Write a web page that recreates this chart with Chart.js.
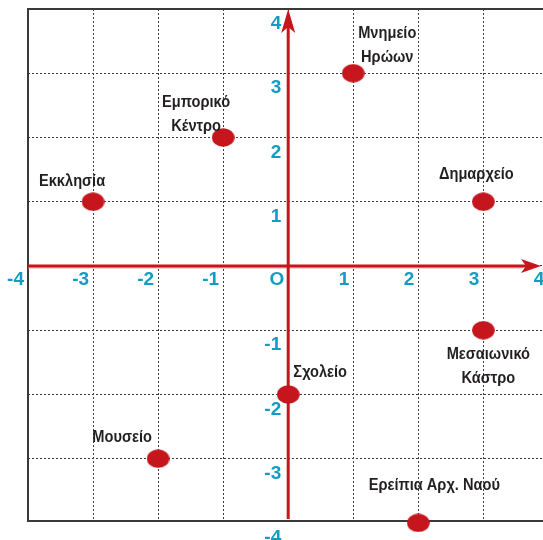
<!DOCTYPE html>
<html>
<head>
<meta charset="utf-8">
<script src="https://cdn.jsdelivr.net/npm/chart.js@4.4.1/dist/chart.umd.min.js"></script>
<style>
  html, body { margin: 0; padding: 0; background: #ffffff; }
  #wrap { width: 543px; height: 540px; }
</style>
</head>
<body>
<div id="wrap"><canvas id="c" width="543" height="540"></canvas></div>
<script>
// ---- data ----
const placeNames = [
  ["Εκκλησία"],
  ["Εμπορικό", "Κέντρο"],
  ["Μνημείο", "Ηρώων"],
  ["Δημαρχείο"],
  ["Μεσαιωνικό", "Κάστρο"],
  ["Σχολείο"],
  ["Μουσείο"],
  ["Ερείπια Αρχ. Ναού"]
];
const xValues = [-3, -1, 1, 3, 3, 0, -2, 2];
const yValues = [1, 2, 3, 1, -1, -2, -3, -4];
const tickValues = [-4, -3, -2, -1, 0, 1, 2, 3, 4];
const xTickLabels = ["-4", "-3", "-2", "-1", "O", "1", "2", "3", "4"];
const yTickLabels = ["-4", "-3", "-2", "-1", "", "1", "2", "3", "4"];

// ---- label placement (style, pixels relative to the point) ----
const labelOffsets = [
  [-21, -20], [-27, -35], [34, -40], [-7, -27],
  [5, 24], [32, -22], [-36, -21], [16, -38]
];
const LINE_H = 24;
const TEXT_SQUEEZE = 0.86;

const RED = "#c4161c";
const BLUE = "#129cc2";
const TEXT = "#231f20";

// ellipse point marker
const marker = document.createElement("canvas");
marker.width = 23; marker.height = 19;
(function () {
  const m = marker.getContext("2d");
  m.fillStyle = RED;
  m.beginPath();
  m.ellipse(11.5, 9.5, 11.3, 9.3, 0, 0, Math.PI * 2);
  m.fill();
})();

const axesPlugin = {
  id: "axesPlugin",
  beforeDatasetsDraw(chart) {
    const ctx = chart.ctx;
    const xs = chart.scales.x, ys = chart.scales.y;
    const a = chart.chartArea;
    const x0 = xs.getPixelForValue(0), y0 = ys.getPixelForValue(0);
    ctx.save();
    // frame
    ctx.strokeStyle = "#3a3a3a";
    ctx.lineWidth = 2;
    ctx.beginPath();
    ctx.moveTo(a.right + 2, a.top); ctx.lineTo(a.left, a.top);
    ctx.lineTo(a.left, a.bottom); ctx.lineTo(a.right + 2, a.bottom);
    ctx.stroke();
    // x axis
    ctx.strokeStyle = "#e8a0a3";
    ctx.lineWidth = 1;
    ctx.beginPath(); ctx.moveTo(a.left, y0 + 2); ctx.lineTo(a.right - 20, y0 + 2); ctx.stroke();
    ctx.strokeStyle = RED;
    ctx.lineWidth = 3;
    ctx.beginPath(); ctx.moveTo(a.left, y0); ctx.lineTo(a.right - 10, y0); ctx.stroke();
    const tipX = a.right - 2;
    ctx.fillStyle = RED;
    ctx.beginPath();
    ctx.moveTo(tipX, y0);
    ctx.lineTo(tipX - 20, y0 - 7);
    ctx.lineTo(tipX - 15, y0);
    ctx.lineTo(tipX - 20, y0 + 7);
    ctx.closePath(); ctx.fill();
    // y axis
    ctx.strokeStyle = RED;
    ctx.lineWidth = 3;
    ctx.beginPath(); ctx.moveTo(x0, a.bottom - 2); ctx.lineTo(x0, a.top + 12); ctx.stroke();
    const tipY = a.top;
    ctx.beginPath();
    ctx.moveTo(x0, tipY);
    ctx.lineTo(x0 - 7, tipY + 24);
    ctx.lineTo(x0, tipY + 18);
    ctx.lineTo(x0 + 7, tipY + 24);
    ctx.closePath(); ctx.fill();
    ctx.restore();
  },
  afterDatasetsDraw(chart) {
    const ctx = chart.ctx;
    const xs = chart.scales.x, ys = chart.scales.y;
    const x0 = xs.getPixelForValue(0), y0 = ys.getPixelForValue(0);
    ctx.save();
    // tick labels
    ctx.fillStyle = BLUE;
    ctx.font = "bold 19px 'Liberation Sans', Arial, sans-serif";
    ctx.textBaseline = "middle";
    ctx.textAlign = "right";
    tickValues.forEach((v, i) => {
      ctx.fillText(xTickLabels[i], xs.getPixelForValue(v) - 4, y0 + 14);
    });
    tickValues.forEach((v, i) => {
      if (!yTickLabels[i]) return;
      ctx.fillText(yTickLabels[i], x0 - 7, ys.getPixelForValue(v) + 15);
    });
    // place labels (condensed)
    ctx.fillStyle = TEXT;
    ctx.font = "bold 17px 'Liberation Sans', Arial, sans-serif";
    ctx.textAlign = "center";
    const meta = chart.getDatasetMeta(0);
    meta.data.forEach((pt, i) => {
      const off = labelOffsets[i];
      placeNames[i].forEach((line, j) => {
        ctx.save();
        ctx.translate(pt.x + off[0], pt.y + off[1] + j * LINE_H);
        ctx.scale(TEXT_SQUEEZE, 1);
        ctx.fillText(line, 0, 0);
        ctx.restore();
      });
    });
    ctx.restore();
  }
};

function flatten(s) {
  s.paddingLeft = 0; s.paddingRight = 0; s.paddingTop = 0; s.paddingBottom = 0;
  if (s.isHorizontal()) s.height = 0; else s.width = 0;
}

new Chart(document.getElementById("c"), {
  type: "scatter",
  data: {
    datasets: [{
      data: xValues.map((x, i) => ({ x: x, y: yValues[i] })),
      pointStyle: marker,
      pointRadius: 11,
      backgroundColor: RED,
      borderColor: RED,
      clip: false
    }]
  },
  options: {
    responsive: false,
    animation: false,
    layout: { autoPadding: false, padding: { left: 28, top: 9, right: 0, bottom: 19 } },
    plugins: { legend: { display: false }, tooltip: { enabled: false } },
    scales: {
      x: {
        type: "linear",
        min: -4, max: 3.917,
        afterBuildTicks: (s) => { s.ticks = tickValues.filter(v => v <= 3.917).map(v => ({ value: v })); },
        afterFit: flatten,
        ticks: { display: false },
        grid: { color: "#3c3c3c", lineWidth: 1, drawTicks: false },
        border: { display: false, dash: [2, 2] }
      },
      y: {
        type: "linear",
        min: -3.97, max: 4,
        afterBuildTicks: (s) => { s.ticks = tickValues.filter(v => v >= -3.97).map(v => ({ value: v })); },
        afterFit: flatten,
        ticks: { display: false },
        grid: { color: "#3c3c3c", lineWidth: 1, drawTicks: false },
        border: { display: false, dash: [2, 2] }
      }
    }
  },
  plugins: [axesPlugin]
});
</script>
</body>
</html>
